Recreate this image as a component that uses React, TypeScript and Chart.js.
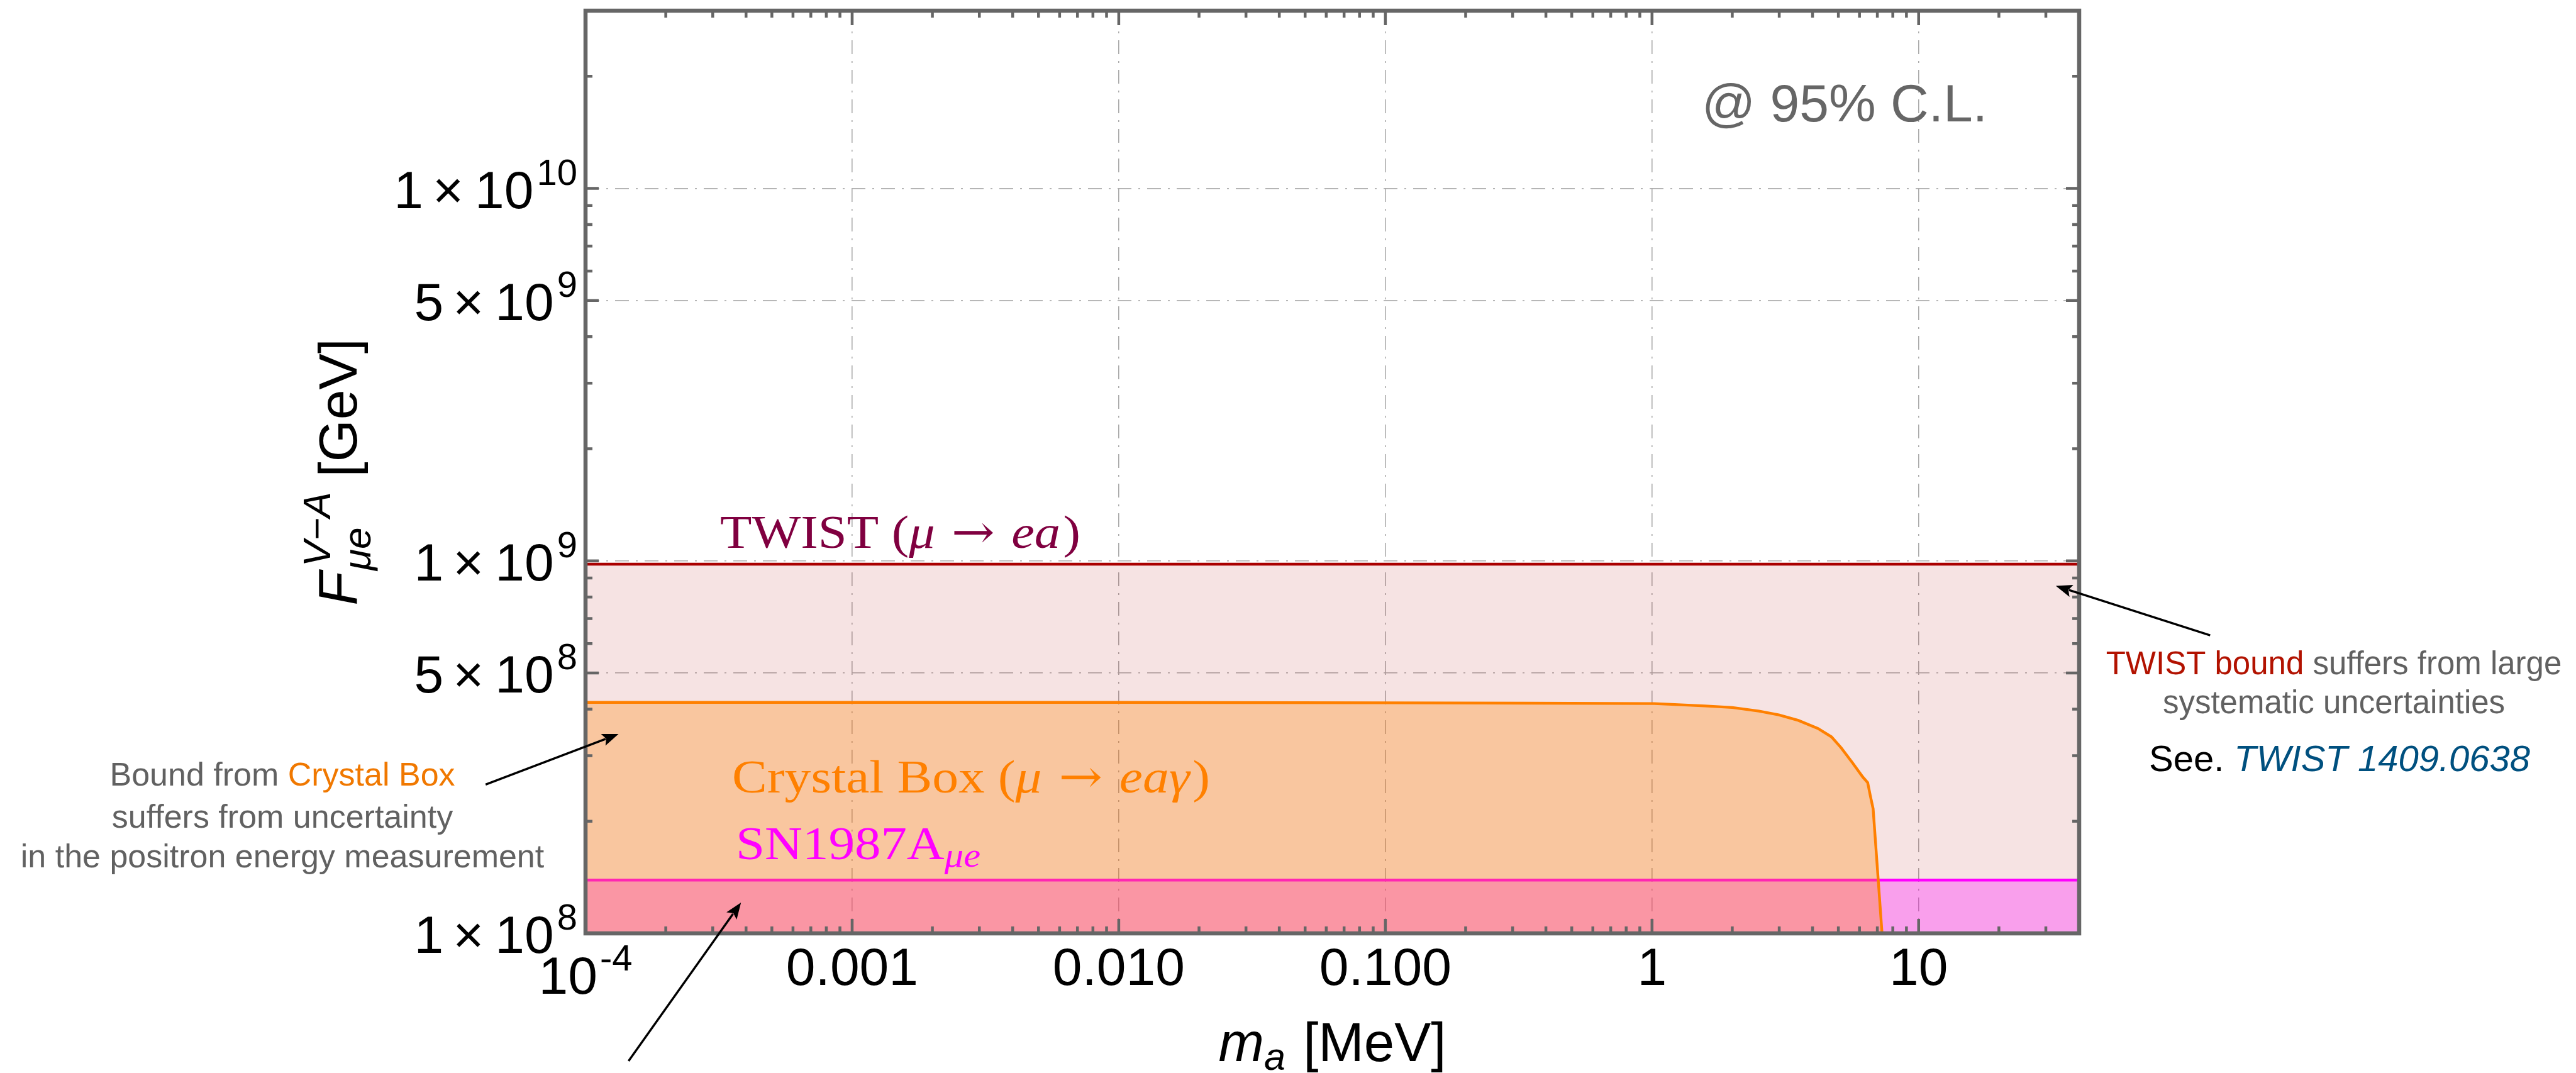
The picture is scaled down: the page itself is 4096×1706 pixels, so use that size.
import React, { useEffect, useRef } from "react";
import { Chart, registerables } from "chart.js";

Chart.register(...registerables);

// ---------------- data ----------------
const X_MIN = 1e-4;
const X_MAX = 40;
const Y_MIN = 1e8;
const Y_MAX = 3e10;

const X_GRID = [0.001, 0.01, 0.1, 1, 10];
const Y_GRID = [5e8, 1e9, 5e9, 1e10];

const X_TICK_VALUES = [1e-4, 0.001, 0.01, 0.1, 1, 10];
const X_TICK_LABELS = ["10^-4", "0.001", "0.010", "0.100", "1", "10"];

const Y_TICK_VALUES = [1e8, 5e8, 1e9, 5e9, 1e10];
const Y_TICK_MANTISSA = ["1", "5", "1", "5", "1"];
const Y_TICK_EXPONENT = ["8", "8", "9", "9", "10"];

const TWIST_X = [1e-4, 40];
const TWIST_Y = [9.8e8, 9.8e8];

const SN_X = [1e-4, 40];
const SN_Y = [1.39e8, 1.39e8];

const CB_X = [1e-4, 0.01, 0.1, 0.346, 1.02, 1.58, 2.0, 2.52, 2.99, 3.54, 4.19, 4.71, 5.12, 5.67, 6.17, 6.44, 6.59, 6.75, 7.29];
const CB_Y = [4.17e8, 4.17e8, 4.16e8, 4.15e8, 4.14e8, 4.08e8, 4.04e8, 3.95e8, 3.86e8, 3.73e8, 3.55e8, 3.37e8, 3.15e8, 2.86e8, 2.63e8, 2.54e8, 2.34e8, 2.16e8, 1.0e8];

// annotation arrows: [tail, head] in data coordinates
const ARROW_TWIST = [[124, 6.31e8], [32.7, 8.57e8]];
const ARROW_CB = [[4.22e-5, 2.51e8], [1.33e-4, 3.43e8]];
const ARROW_SN = [[1.45e-4, 4.54e7], [3.83e-4, 1.21e8]];

// ---------------- styles ----------------
const SANS = '"Liberation Sans", Arial, Helvetica, sans-serif';
const SERIF = '"Liberation Serif", "DejaVu Serif", serif';
const ARROWFONT = '"DejaVu Serif", "DejaVu Sans", serif';
const FRAME = "#666666";
const GRAY_TEXT = "#616161";

type Run = { t: string; f: string; c: string; dy?: number; dx?: number };

function runsWidth(ctx: CanvasRenderingContext2D, runs: Run[]) {
  let w = 0;
  for (const r of runs) {
    ctx.font = r.f;
    w += ctx.measureText(r.t).width + (r.dx || 0);
  }
  return w;
}

function drawRuns(
  ctx: CanvasRenderingContext2D,
  runs: Run[],
  x: number,
  y: number,
  align: "left" | "center" | "right" = "left",
  targetWidth?: number
) {
  const w = runsWidth(ctx, runs);
  const sx = targetWidth ? targetWidth / w : 1;
  const start = align === "left" ? x : align === "center" ? x - (w * sx) / 2 : x - w * sx;
  ctx.save();
  ctx.translate(start, y);
  ctx.scale(sx, 1);
  ctx.textAlign = "left";
  ctx.textBaseline = "alphabetic";
  let cx = 0;
  for (const r of runs) {
    ctx.font = r.f;
    ctx.fillStyle = r.c;
    cx += r.dx || 0;
    ctx.fillText(r.t, cx, r.dy || 0);
    cx += ctx.measureText(r.t).width;
  }
  ctx.restore();
}

function drawArrow(ctx: CanvasRenderingContext2D, x0: number, y0: number, x1: number, y1: number) {
  const ang = Math.atan2(y1 - y0, x1 - x0);
  const hl = 26;
  const hw = 10;
  const bx = x1 - hl * Math.cos(ang);
  const by = y1 - hl * Math.sin(ang);
  ctx.save();
  ctx.strokeStyle = "#000";
  ctx.fillStyle = "#000";
  ctx.lineWidth = 3.4;
  ctx.beginPath();
  ctx.moveTo(x0, y0);
  ctx.lineTo(bx + 4 * Math.cos(ang), by + 4 * Math.sin(ang));
  ctx.stroke();
  ctx.beginPath();
  ctx.moveTo(x1, y1);
  ctx.lineTo(bx - hw * Math.sin(ang), by + hw * Math.cos(ang));
  ctx.lineTo(bx + 5 * Math.cos(ang), by + 5 * Math.sin(ang));
  ctx.lineTo(bx + hw * Math.sin(ang), by - hw * Math.cos(ang));
  ctx.closePath();
  ctx.fill();
  ctx.restore();
}

const decoPlugin = {
  id: "deco",
  afterDraw(chart: any) {
    const ctx: CanvasRenderingContext2D = chart.ctx;
    const xs = chart.scales.x;
    const ys = chart.scales.y;
    const { left, right, top, bottom } = chart.chartArea;

    ctx.save();
    // ---- ticks (inward, all four sides) ----
    ctx.strokeStyle = FRAME;
    ctx.lineWidth = 4.5;
    ctx.lineCap = "butt";
    const xMajor = new Set(X_TICK_VALUES.map((v) => v.toPrecision(6)));
    for (let e = -4; e <= 1; e++) {
      for (let k = 1; k <= 9; k++) {
        const v = k * Math.pow(10, e);
        if (v < X_MIN * 0.999 || v > X_MAX) continue;
        const major = xMajor.has(v.toPrecision(6));
        const len = major ? 23 : 11;
        const px = xs.getPixelForValue(v);
        ctx.beginPath();
        ctx.moveTo(px, bottom);
        ctx.lineTo(px, bottom - len);
        ctx.moveTo(px, top);
        ctx.lineTo(px, top + len);
        ctx.stroke();
      }
    }
    const yMajor = new Set(Y_TICK_VALUES.map((v) => v.toPrecision(6)));
    for (let e = 8; e <= 10; e++) {
      for (let k = 1; k <= 9; k++) {
        const v = k * Math.pow(10, e);
        if (v < Y_MIN * 0.999 || v > Y_MAX * 1.001) continue;
        const major = yMajor.has(v.toPrecision(6));
        const len = major ? 21 : 11;
        const py = ys.getPixelForValue(v);
        ctx.beginPath();
        ctx.moveTo(left, py);
        ctx.lineTo(left + len, py);
        ctx.moveTo(right, py);
        ctx.lineTo(right - len, py);
        ctx.stroke();
      }
    }
    // ---- frame ----
    ctx.lineWidth = 6.5;
    ctx.strokeRect(left, top, right - left, bottom - top);

    // ---- x tick labels ----
    const tickFont = `84px ${SANS}`;
    const supFont = `58px ${SANS}`;
    X_TICK_VALUES.forEach((v, i) => {
      const px = xs.getPixelForValue(v);
      const lab = X_TICK_LABELS[i];
      if (lab.includes("^")) {
        const [b, ex] = lab.split("^");
        drawRuns(
          ctx,
          [
            { t: b, f: tickFont, c: "#000" },
            { t: ex, f: supFont, c: "#000", dx: 4, dy: -37 },
          ],
          px,
          bottom + 96,
          "center"
        );
      } else {
        drawRuns(ctx, [{ t: lab, f: tickFont, c: "#000" }], px, bottom + 82, "center");
      }
    });

    // ---- y tick labels ----
    Y_TICK_VALUES.forEach((v, i) => {
      const py = ys.getPixelForValue(v);
      drawRuns(
        ctx,
        [
          { t: Y_TICK_MANTISSA[i], f: tickFont, c: "#000" },
          { t: "\u00d7", f: tickFont, c: "#000", dx: 15 },
          { t: "10", f: tickFont, c: "#000", dx: 18 },
          { t: Y_TICK_EXPONENT[i], f: supFont, c: "#000", dx: 5, dy: -37 },
        ],
        left - 13,
        py + 31,
        "right"
      );
    });

    // ---- axis titles ----
    drawRuns(
      ctx,
      [
        { t: "m", f: `italic 87px ${SANS}`, c: "#000" },
        { t: "a", f: `italic 61px ${SANS}`, c: "#000", dy: 14 },
        { t: " [MeV]", f: `87px ${SANS}`, c: "#000", dx: 4 },
      ],
      (left + right) / 2,
      1687,
      "center"
    );

    ctx.save();
    ctx.translate(567, (top + bottom) / 2);
    ctx.rotate(-Math.PI / 2);
    {
      const fBig = `italic 88px ${SANS}`;
      const fSmall = `italic 62px ${SANS}`;
      const fRest = `86px ${SANS}`;
      ctx.textBaseline = "alphabetic";
      ctx.textAlign = "left";
      ctx.fillStyle = "#000";
      ctx.font = fBig;
      const wF = ctx.measureText("F").width;
      ctx.font = fSmall;
      const wSub = ctx.measureText("\u03bce").width;
      const wSup = ctx.measureText("V\u2212A").width;
      const wS = Math.max(wSub, wSup) + 8;
      ctx.font = fRest;
      const wR = ctx.measureText(" [GeV]").width;
      const total = wF + wS + wR;
      const x0 = -total / 2;
      ctx.font = fBig;
      ctx.fillText("F", x0, 0);
      ctx.font = fSmall;
      ctx.fillText("\u03bce", x0 + wF + 2, 22);
      ctx.fillText("V\u2212A", x0 + wF + 8, -42);
      ctx.font = fRest;
      ctx.fillText(" [GeV]", x0 + wF + wS, 0);
    }
    ctx.restore();

    // ---- in-plot labels ----
    drawRuns(ctx, [{ t: "@ 95% C.L.", f: `84px ${SANS}`, c: "#666666" }], 2706, 193, "left");

    const sF = `74px ${SERIF}`;
    const sI = `italic 74px ${SERIF}`;
    const sA = `74px ${ARROWFONT}`;
    drawRuns(
      ctx,
      [
        { t: "TWIST (", f: sF, c: "#800040" },
        { t: "\u03bc", f: sI, c: "#800040" },
        { t: " \u2192 ", f: sA, c: "#800040" },
        { t: "ea", f: sI, c: "#800040" },
        { t: ")", f: sF, c: "#800040", dx: 4 },
      ],
      1145,
      871,
      "left",
      573
    );
    drawRuns(
      ctx,
      [
        { t: "Crystal Box (", f: sF, c: "#FF8000" },
        { t: "\u03bc", f: sI, c: "#FF8000" },
        { t: " \u2192 ", f: sA, c: "#FF8000" },
        { t: "ea\u03b3", f: sI, c: "#FF8000" },
        { t: ")", f: sF, c: "#FF8000", dx: 4 },
      ],
      1164,
      1260,
      "left",
      760
    );
    drawRuns(
      ctx,
      [
        { t: "SN1987A", f: sF, c: "#FF00FF" },
        { t: "\u03bce", f: `italic 54px ${SERIF}`, c: "#FF00FF", dy: 12 },
      ],
      1170,
      1366,
      "left",
      389
    );

    // ---- right annotation ----
    const aF = `51px ${SANS}`;
    drawRuns(
      ctx,
      [
        { t: "TWIST bound", f: aF, c: "#B21200" },
        { t: " suffers from large", f: aF, c: GRAY_TEXT },
      ],
      3711,
      1072,
      "center"
    );
    drawRuns(ctx, [{ t: "systematic uncertainties", f: aF, c: GRAY_TEXT }], 3711, 1134, "center");
    drawRuns(
      ctx,
      [
        { t: "See. ", f: `58px ${SANS}`, c: "#000" },
        { t: "TWIST 1409.0638", f: `italic 58px ${SANS}`, c: "#00507F" },
      ],
      3720,
      1226,
      "center"
    );

    // ---- left annotation ----
    const lF = `52px ${SANS}`;
    drawRuns(
      ctx,
      [
        { t: "Bound from ", f: lF, c: GRAY_TEXT },
        { t: "Crystal Box", f: lF, c: "#F07800" },
      ],
      449,
      1249,
      "center"
    );
    drawRuns(ctx, [{ t: "suffers from uncertainty", f: lF, c: GRAY_TEXT }], 449, 1316, "center");
    drawRuns(ctx, [{ t: "in the positron energy measurement", f: lF, c: GRAY_TEXT }], 449, 1379, "center");

    // ---- arrows ----
    for (const a of [ARROW_TWIST, ARROW_CB, ARROW_SN]) {
      drawArrow(
        ctx,
        xs.getPixelForValue(a[0][0]),
        ys.getPixelForValue(a[0][1]),
        xs.getPixelForValue(a[1][0]),
        ys.getPixelForValue(a[1][1])
      );
    }
    ctx.restore();
  },
};

function toXY(xsArr: number[], ysArr: number[]) {
  return xsArr.map((x, i) => ({ x, y: ysArr[i] }));
}

export default function App() {
  const ref = useRef<HTMLCanvasElement | null>(null);
  useEffect(() => {
    if (!ref.current) return;
    const dash = [22, 11, 3, 11];
    const chart = new Chart(ref.current, {
      type: "line",
      data: {
        datasets: [
          {
            label: "Crystal Box",
            data: toXY(CB_X, CB_Y),
            borderColor: "#FF8000",
            borderWidth: 4.4,
            backgroundColor: "rgba(255,128,0,0.3)",
            fill: "start",
            pointRadius: 0,
            tension: 0,
            order: 1,
          },
          {
            label: "SN1987A",
            data: toXY(SN_X, SN_Y),
            borderColor: "#FF00FF",
            borderWidth: 4.4,
            backgroundColor: "rgba(255,0,255,0.3)",
            fill: "start",
            pointRadius: 0,
            tension: 0,
            order: 2,
          },
          {
            label: "TWIST",
            data: toXY(TWIST_X, TWIST_Y),
            borderColor: "#AA0000",
            borderWidth: 4.6,
            backgroundColor: "rgba(170,0,0,0.11)",
            fill: "start",
            pointRadius: 0,
            tension: 0,
            order: 3,
          },
        ],
      } as any,
      options: {
        responsive: false,
        animation: false,
        devicePixelRatio: 1,
        events: [],
        layout: { padding: { left: 931, top: 17, right: 790, bottom: 222 } },
        plugins: { legend: { display: false }, tooltip: { enabled: false } },
        scales: {
          x: {
            type: "logarithmic",
            min: X_MIN,
            max: X_MAX,
            ticks: { display: false },
            grid: { color: "#ababab", lineWidth: 1.6, drawTicks: false },
            border: { display: false, dash },
            afterBuildTicks: (s: any) => {
              s.ticks = X_GRID.map((v) => ({ value: v }));
            },
            afterFit: (s: any) => {
              s.height = 0;
            },
          },
          y: {
            type: "logarithmic",
            min: Y_MIN,
            max: Y_MAX,
            ticks: { display: false },
            grid: { color: "#ababab", lineWidth: 1.6, drawTicks: false },
            border: { display: false, dash },
            afterBuildTicks: (s: any) => {
              s.ticks = Y_GRID.map((v) => ({ value: v }));
            },
            afterFit: (s: any) => {
              s.width = 0;
            },
          },
        },
      } as any,
      plugins: [decoPlugin],
    });
    return () => chart.destroy();
  }, []);
  return (
    <div style={{ position: "absolute", left: 0, top: 0, width: 4096, height: 1706, background: "#fff" }}>
      <canvas ref={ref} width={4096} height={1706} style={{ display: "block" }} />
    </div>
  );
}
